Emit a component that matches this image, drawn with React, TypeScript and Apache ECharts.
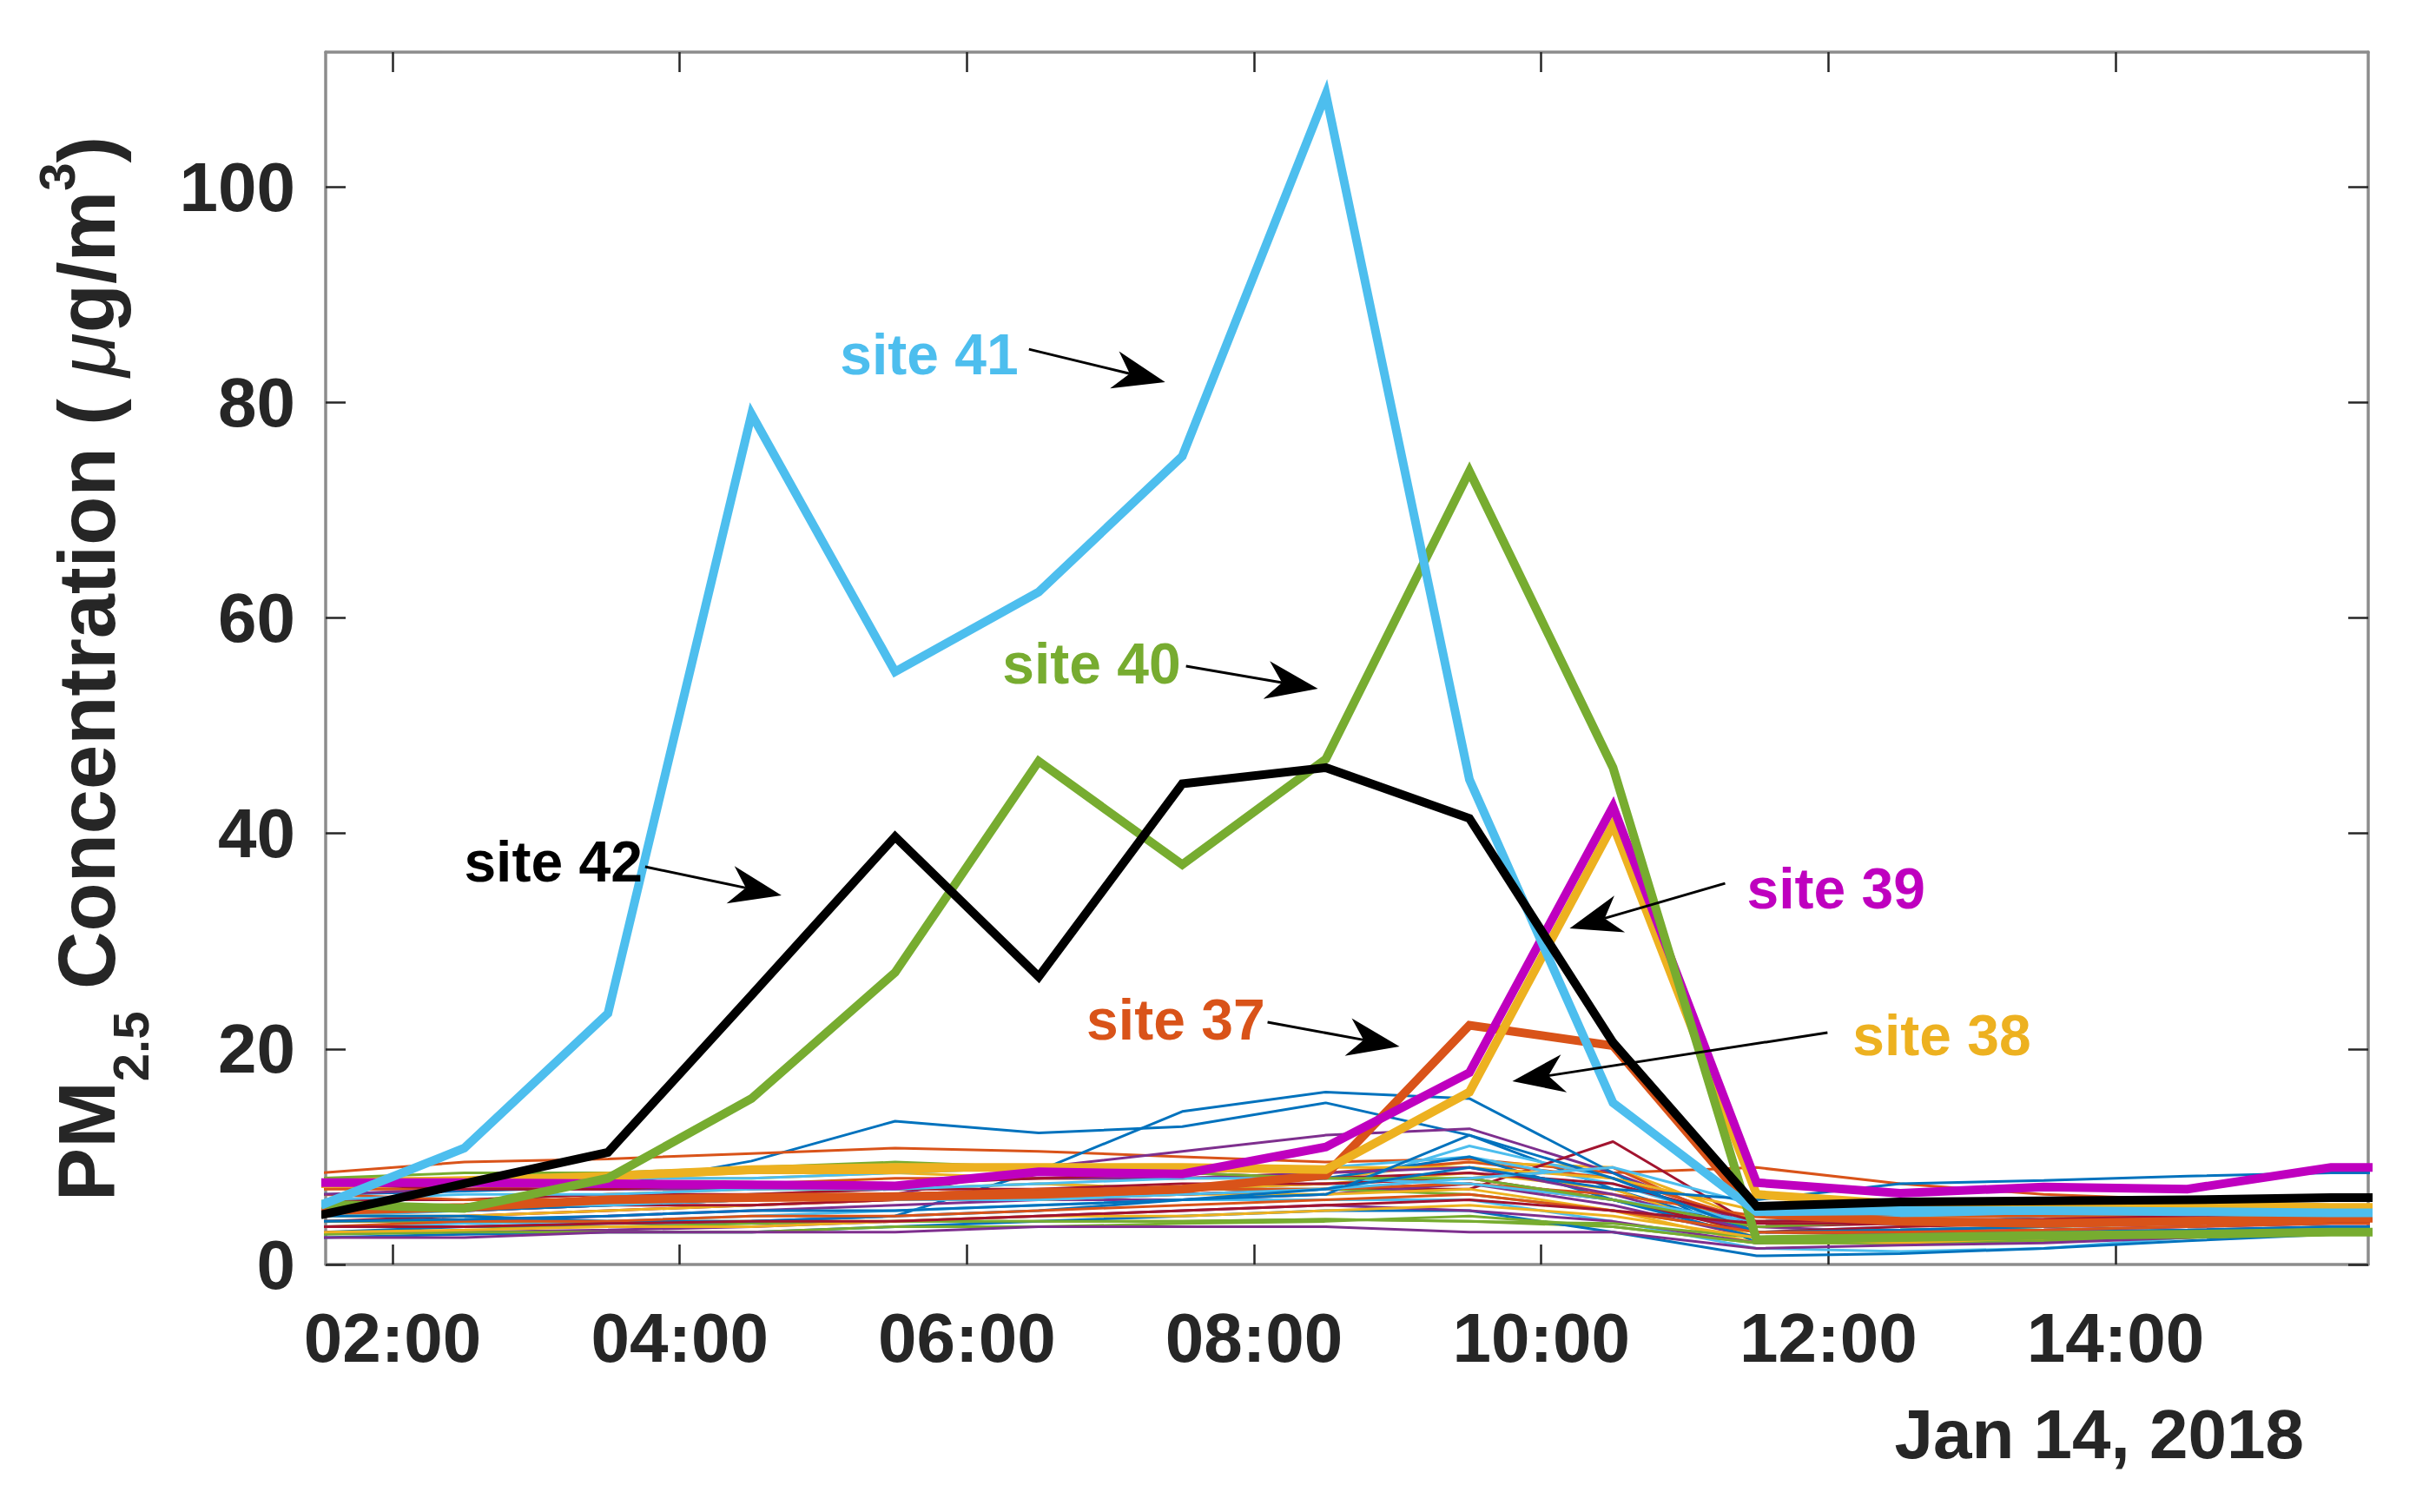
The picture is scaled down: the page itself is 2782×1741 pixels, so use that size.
import React, { useEffect, useRef } from 'react';
import * as echarts from 'echarts';

// Time of each sample (hours of Jan 14, 2018)
const HOURS = [1.5, 2.5, 3.5, 4.5, 5.5, 6.5, 7.5, 8.5, 9.5, 10.5, 11.5, 12.5, 13.5, 14.5, 15.5, 16.5];

// Background sites 1-36 (thin lines)
const SITE01 = [6.5, 6.8, 7.2, 9.6, 13.3, 12.2, 12.8, 15.0, 12.0, 7.0, 3.0, 3.2, 3.5, 3.8, 4.0, 4.0];
const SITE02 = [8.5, 9.5, 9.8, 10.3, 10.8, 10.5, 10.0, 9.5, 9.8, 8.5, 9.0, 7.5, 6.5, 6.0, 6.0, 6.0];
const SITE03 = [7.0, 7.5, 8.0, 8.0, 8.5, 8.0, 8.0, 8.0, 9.5, 9.0, 4.0, 4.5, 4.5, 4.5, 5.0, 5.0];
const SITE04 = [5.5, 5.0, 5.5, 6.0, 6.5, 9.0, 10.5, 12.0, 12.6, 8.5, 3.5, 3.0, 3.2, 3.5, 3.8, 3.8];
const SITE05 = [3.5, 3.5, 3.5, 3.8, 4.0, 4.0, 4.0, 4.2, 4.0, 3.5, 2.0, 2.2, 2.5, 2.8, 3.0, 3.0];
const SITE06 = [4.5, 5.0, 5.5, 6.5, 7.0, 7.5, 7.0, 7.0, 11.0, 8.0, 3.0, 3.5, 4.5, 4.5, 5.0, 5.0];
const SITE07 = [4.0, 4.5, 5.0, 5.5, 6.0, 6.0, 6.5, 7.0, 7.0, 11.4, 3.5, 3.8, 3.8, 4.0, 4.0, 4.0];
const SITE08 = [3.0, 3.5, 3.8, 4.0, 4.5, 8.7, 14.2, 16.0, 15.4, 8.5, 2.0, 2.2, 2.5, 3.0, 3.5, 3.5];
const SITE09 = [5.0, 5.5, 6.0, 6.0, 6.5, 7.0, 7.0, 7.5, 8.0, 9.0, 3.0, 2.8, 3.0, 3.2, 3.5, 3.5];
const SITE10 = [6.0, 6.0, 6.5, 7.0, 7.0, 7.5, 7.0, 7.5, 8.5, 7.0, 2.5, 2.5, 2.8, 3.0, 3.5, 3.5];
const SITE11 = [4.0, 4.0, 4.5, 5.0, 5.5, 6.0, 6.0, 6.5, 7.5, 5.5, 2.5, 2.5, 2.8, 3.0, 3.2, 3.2];
const SITE12 = [5.0, 5.5, 5.5, 6.0, 6.0, 6.5, 7.0, 7.0, 6.5, 5.0, 3.0, 3.2, 3.5, 3.8, 4.0, 4.0];
const SITE13 = [3.5, 3.8, 4.0, 4.5, 5.0, 5.5, 6.0, 6.0, 6.0, 4.0, 1.5, 1.2, 1.5, 2.5, 3.0, 3.0];
const SITE14 = [6.0, 6.0, 6.5, 6.5, 7.0, 7.0, 7.5, 7.5, 8.0, 6.0, 3.0, 3.5, 3.8, 4.0, 4.0, 4.0];
const SITE15 = [2.5, 2.8, 3.0, 3.0, 3.5, 4.0, 4.5, 5.0, 5.0, 3.0, 0.8, 1.0, 1.5, 2.2, 2.8, 2.8];
const SITE16 = [7.0, 7.0, 7.5, 7.5, 8.0, 8.0, 8.0, 8.5, 9.5, 8.0, 4.0, 4.0, 4.2, 4.5, 4.5, 4.5];
const SITE17 = [4.5, 4.5, 5.0, 5.5, 6.0, 6.0, 6.5, 6.5, 7.0, 5.0, 2.0, 2.0, 2.3, 2.5, 3.0, 3.0];
const SITE18 = [3.0, 3.0, 3.2, 3.5, 4.0, 4.5, 5.0, 5.5, 5.0, 4.0, 2.0, 2.5, 2.8, 3.0, 3.2, 3.2];
const SITE19 = [4.0, 4.0, 4.0, 4.0, 4.0, 4.0, 4.0, 4.2, 4.0, 3.8, 2.5, 2.2, 2.5, 3.0, 3.2, 3.2];
const SITE20 = [7.5, 7.5, 8.0, 8.0, 8.5, 9.0, 9.0, 9.0, 10.0, 7.5, 3.5, 4.0, 4.0, 4.2, 4.5, 4.5];
const SITE21 = [5.0, 5.0, 5.5, 5.5, 6.0, 6.5, 6.5, 7.0, 7.5, 6.0, 3.5, 4.0, 4.0, 4.0, 4.2, 4.2];
const SITE22 = [5.0, 5.0, 5.5, 6.0, 6.5, 6.5, 7.0, 8.0, 10.0, 6.0, 2.5, 2.8, 3.0, 3.2, 3.5, 3.5];
const SITE23 = [6.5, 6.0, 6.0, 6.5, 6.5, 7.0, 7.0, 7.0, 7.5, 6.5, 4.5, 4.5, 4.5, 4.5, 5.0, 5.0];
const SITE24 = [8.0, 8.0, 8.0, 8.5, 8.5, 9.0, 9.0, 9.0, 9.0, 8.0, 5.0, 5.0, 5.0, 5.2, 5.5, 5.5];
const SITE25 = [6.5, 7.0, 7.0, 7.0, 7.5, 8.0, 8.0, 8.5, 9.0, 6.5, 3.0, 3.0, 3.2, 3.5, 3.8, 3.8];
const SITE26 = [2.8, 3.0, 3.0, 3.0, 3.5, 3.5, 3.8, 4.0, 4.5, 3.5, 2.0, 2.0, 2.2, 2.5, 2.8, 2.8];
const SITE27 = [6.0, 6.5, 6.5, 7.0, 7.0, 7.5, 8.0, 8.0, 7.5, 6.0, 4.0, 4.5, 4.8, 5.0, 5.0, 5.0];
const SITE28 = [7.5, 7.0, 7.0, 7.5, 7.5, 8.0, 8.5, 8.0, 8.5, 7.5, 4.0, 4.2, 4.2, 4.5, 4.5, 4.5];
const SITE29 = [4.5, 4.5, 4.0, 4.0, 4.5, 5.0, 6.0, 6.5, 12.0, 8.0, 3.0, 3.2, 3.5, 4.0, 4.2, 4.2];
const SITE30 = [3.5, 4.0, 4.0, 4.5, 4.5, 5.0, 5.5, 6.0, 6.5, 5.0, 3.0, 3.0, 3.2, 3.5, 3.8, 3.8];
const SITE31 = [3.0, 3.2, 3.5, 3.5, 4.0, 4.5, 4.5, 5.0, 5.5, 4.5, 2.5, 2.0, 2.5, 3.0, 3.0, 3.0];
const SITE32 = [2.5, 2.5, 3.0, 3.0, 3.0, 3.5, 3.5, 3.5, 3.0, 3.0, 1.5, 1.8, 2.0, 2.5, 3.0, 3.0];
const SITE33 = [8.0, 8.5, 8.5, 9.0, 9.5, 9.0, 8.5, 8.0, 8.0, 6.0, 3.5, 4.0, 4.0, 4.2, 4.5, 4.5];
const SITE34 = [5.5, 5.5, 5.5, 6.0, 6.0, 6.0, 6.5, 7.0, 8.0, 9.0, 5.5, 5.0, 5.0, 5.0, 5.2, 5.2];
const SITE35 = [3.5, 3.5, 3.8, 4.0, 4.0, 4.5, 5.0, 5.5, 6.0, 5.0, 3.8, 3.8, 3.8, 4.0, 4.0, 4.0];
const SITE36 = [4.0, 4.2, 4.5, 5.0, 5.0, 5.5, 6.0, 7.0, 9.0, 7.0, 6.0, 7.5, 7.8, 8.2, 8.5, 8.5];

// Highlighted sites (thick lines)
const SITE37 = [5.0, 5.3, 6.0, 6.2, 6.3, 6.5, 7.0, 8.3, 22.2, 20.3, 4.7, 4.0, 3.8, 4.0, 4.3, 4.3];
const SITE38 = [7.5, 7.8, 8.2, 8.8, 9.0, 9.0, 9.0, 8.8, 16.0, 40.8, 6.5, 5.6, 5.5, 5.5, 5.3, 5.3];
const SITE39 = [7.6, 7.6, 7.5, 7.4, 7.3, 8.6, 8.4, 10.9, 17.8, 42.5, 7.6, 6.6, 7.2, 7.0, 9.0, 9.0];
const SITE40 = [5.6, 5.2, 8.0, 15.4, 27.1, 46.7, 37.1, 46.9, 73.6, 46.1, 2.3, 2.5, 2.7, 2.8, 3.0, 3.0];
const SITE41 = [5.5, 10.8, 23.3, 78.9, 55.0, 62.4, 75.0, 108.6, 45.0, 15.0, 4.9, 5.0, 5.0, 4.9, 4.8, 4.8];
const SITE42 = [4.6, 7.5, 10.4, 25.0, 39.7, 26.7, 44.6, 46.1, 41.4, 20.6, 5.4, 5.8, 5.9, 6.0, 6.2, 6.2];

const THIN_SITES = [
  SITE01, SITE02, SITE03, SITE04, SITE05, SITE06, SITE07, SITE08, SITE09, SITE10, SITE11, SITE12,
  SITE13, SITE14, SITE15, SITE16, SITE17, SITE18, SITE19, SITE20, SITE21, SITE22, SITE23, SITE24,
  SITE25, SITE26, SITE27, SITE28, SITE29, SITE30, SITE31, SITE32, SITE33, SITE34, SITE35, SITE36,
];
const THICK_SITES = [SITE37, SITE38, SITE39, SITE40, SITE41, SITE42];
const THICK_NAMES = ['site 37', 'site 38', 'site 39', 'site 40', 'site 41', 'site 42'];

// Axis ticks
const X_TICKS = [2, 4, 6, 8, 10, 12, 14];
const Y_TICKS = [0, 20, 40, 60, 80, 100];
const X_MIN = 1.534;
const X_MAX = 15.76;
const Y_MIN = 0;
const Y_MAX = 112.5;
const DATE_LABEL = 'Jan 14, 2018';

// Styles
const CYCLE = ['#0072BD', '#D95319', '#EDB120', '#7E2F8E', '#77AC30', '#4DBEEE', '#A2142F'];
const THICK_COLORS = ['#D95319', '#EDB120', '#BF00BF', '#77AC30', '#4DBEEE', '#000000'];
const FONT = '"Liberation Sans", Arial, Helvetica, sans-serif';
const TEXT = '#262626';
const FRAME = '#8c8c8c';

// Annotations: label anchor, arrow tail and arrow tip in data coordinates (hour, value)
const ANNOTATIONS = [
  { name: 'site 41', color: '#4DBEEE', align: 'right', at: [6.359, 84.45], tail: [6.432, 84.93], tip: [7.381, 81.87] },
  { name: 'site 40', color: '#77AC30', align: 'right', at: [7.49, 55.76], tail: [7.526, 55.52], tip: [8.445, 53.42] },
  { name: 'site 42', color: '#000000', align: 'right', at: [3.741, 37.39], tail: [3.759, 36.91], tip: [4.709, 34.25] },
  { name: 'site 37', color: '#D95319', align: 'right', at: [8.076, 22.72], tail: [8.094, 22.48], tip: [9.013, 20.23] },
  { name: 'site 39', color: '#BF00BF', align: 'left', at: [11.432, 34.89], tail: [11.281, 35.37], tip: [10.198, 31.18] },
  { name: 'site 38', color: '#EDB120', align: 'left', at: [12.169, 21.27], tail: [11.994, 21.52], tip: [9.799, 17.0] },
];

function pad(h: number) {
  return (h < 10 ? '0' : '') + h + ':00';
}

function buildOption() {
  const series: any[] = [];
  THIN_SITES.forEach((vals, i) => {
    series.push({
      type: 'line',
      name: 'site ' + (i + 1),
      data: HOURS.map((h, j) => [h, vals[j]]),
      showSymbol: false,
      silent: true,
      clip: true,
      lineStyle: { width: 3, color: CYCLE[i % CYCLE.length] },
      itemStyle: { color: CYCLE[i % CYCLE.length] },
      emphasis: { disabled: true },
      z: 2,
    });
  });
  THICK_SITES.forEach((vals, i) => {
    series.push({
      type: 'line',
      name: THICK_NAMES[i],
      data: HOURS.map((h, j) => [h, vals[j]]),
      showSymbol: false,
      silent: true,
      clip: true,
      lineStyle: { width: 10, color: THICK_COLORS[i], join: 'miter' },
      itemStyle: { color: THICK_COLORS[i] },
      emphasis: { disabled: true },
      z: 3,
    });
  });

  const tickStyle = { color: TEXT, width: 2.5 };
  const lineStyle = { color: FRAME, width: 3.5 };

  return {
    animation: false,
    backgroundColor: '#ffffff',
    grid: { left: 375, top: 60, right: 55, bottom: 285, containLabel: false },
    xAxis: [
      {
        type: 'value',
        position: 'bottom',
        min: X_MIN,
        max: X_MAX,
        axisLine: { show: true, onZero: false, lineStyle },
        axisTick: { show: true, inside: true, length: 23, customValues: X_TICKS, lineStyle: tickStyle },
        axisLabel: {
          show: true,
          customValues: X_TICKS,
          formatter: (v: number) => pad(v),
          fontSize: 80,
          fontWeight: 'bold',
          fontFamily: FONT,
          color: TEXT,
          margin: 44,
        },
        splitLine: { show: false },
      },
      {
        type: 'value',
        position: 'top',
        min: X_MIN,
        max: X_MAX,
        axisLine: { show: true, onZero: false, lineStyle },
        axisTick: { show: true, inside: true, length: 23, customValues: X_TICKS, lineStyle: tickStyle },
        axisLabel: { show: false },
        splitLine: { show: false },
      },
    ],
    yAxis: [
      {
        type: 'value',
        position: 'left',
        min: Y_MIN,
        max: Y_MAX,
        axisLine: { show: true, onZero: false, lineStyle },
        axisTick: { show: true, inside: true, length: 23, customValues: Y_TICKS, lineStyle: tickStyle },
        axisLabel: {
          show: true,
          customValues: Y_TICKS,
          fontSize: 80,
          fontWeight: 'bold',
          fontFamily: FONT,
          color: TEXT,
          margin: 35,
        },
        splitLine: { show: false },
      },
      {
        type: 'value',
        position: 'right',
        min: Y_MIN,
        max: Y_MAX,
        axisLine: { show: true, onZero: false, lineStyle },
        axisTick: { show: true, inside: true, length: 23, customValues: Y_TICKS, lineStyle: tickStyle },
        axisLabel: { show: false },
        splitLine: { show: false },
      },
    ],
    series,
  };
}

function arrowShapes(tail: number[], tip: number[]) {
  const dx = tip[0] - tail[0];
  const dy = tip[1] - tail[1];
  const len = Math.sqrt(dx * dx + dy * dy) || 1;
  const ux = dx / len;
  const uy = dy / len;
  const nx = -uy;
  const ny = ux;
  const headLen = 60;
  const halfW = 22;
  const notch = 18;
  const bx = tip[0] - ux * headLen;
  const by = tip[1] - uy * headLen;
  const mx = tip[0] - ux * (headLen - notch);
  const my = tip[1] - uy * (headLen - notch);
  return [
    {
      type: 'line',
      silent: true,
      z: 100,
      shape: { x1: tail[0], y1: tail[1], x2: mx, y2: my },
      style: { stroke: '#000000', lineWidth: 3 },
    },
    {
      type: 'polygon',
      silent: true,
      z: 100,
      shape: {
        points: [
          [tip[0], tip[1]],
          [bx + nx * halfW, by + ny * halfW],
          [mx, my],
          [bx - nx * halfW, by - ny * halfW],
        ],
      },
      style: { fill: '#000000' },
    },
  ];
}

export default function App() {
  const ref = useRef<HTMLDivElement>(null);
  useEffect(() => {
    document.body.style.margin = '0';
    const chart = echarts.init(ref.current as HTMLDivElement, null, { renderer: 'svg' });
    chart.setOption(buildOption() as any);

    const graphics: any[] = [];
    ANNOTATIONS.forEach((a) => {
      const p = chart.convertToPixel({ gridIndex: 0 }, a.at) as number[];
      const t = chart.convertToPixel({ gridIndex: 0 }, a.tail) as number[];
      const q = chart.convertToPixel({ gridIndex: 0 }, a.tip) as number[];
      graphics.push({
        type: 'text',
        silent: true,
        z: 100,
        x: p[0],
        y: p[1],
        style: {
          text: a.name,
          fill: a.color,
          fontSize: 66,
          fontWeight: 'bold',
          fontFamily: FONT,
          align: a.align,
          verticalAlign: 'middle',
        },
      });
      arrowShapes(t, q).forEach((s) => graphics.push(s));
    });

    // Date under the x axis
    graphics.push({
      type: 'text',
      silent: true,
      x: 2653,
      y: 1651,
      style: {
        text: DATE_LABEL,
        fill: TEXT,
        fontSize: 80,
        fontWeight: 'bold',
        fontFamily: FONT,
        align: 'right',
        verticalAlign: 'middle',
      },
    });

    // Y axis title with subscript and superscript
    graphics.push({
      type: 'text',
      silent: true,
      x: 100,
      y: 770,
      rotation: Math.PI / 2,
      style: {
        text: '{a|PM}{sub|2.5}{a| Concentration ( }{mu|μ}{a|g/m}{sup|3}{a|)}',
        fill: TEXT,
        fontFamily: FONT,
        fontSize: 92,
        fontWeight: 'bold',
        align: 'center',
        verticalAlign: 'middle',
        rich: {
          a: { fontSize: 92, fontWeight: 'bold', fontFamily: FONT, fill: TEXT, lineHeight: 200, height: 200 },
          mu: { fontSize: 92, fontStyle: 'italic', fontWeight: 'normal', fontFamily: FONT, fill: TEXT, lineHeight: 200, height: 200 },
          sub: { fontSize: 58, fontWeight: 'bold', fontFamily: FONT, fill: TEXT, lineHeight: 100, height: 100, verticalAlign: 'bottom' },
          sup: { fontSize: 58, fontWeight: 'bold', fontFamily: FONT, fill: TEXT, lineHeight: 130, height: 130, verticalAlign: 'top' },
        },
      },
    });

    chart.setOption({ graphic: graphics } as any);
    return () => chart.dispose();
  }, []);
  return <div ref={ref} style={{ width: 2782, height: 1741 }} />;
}
